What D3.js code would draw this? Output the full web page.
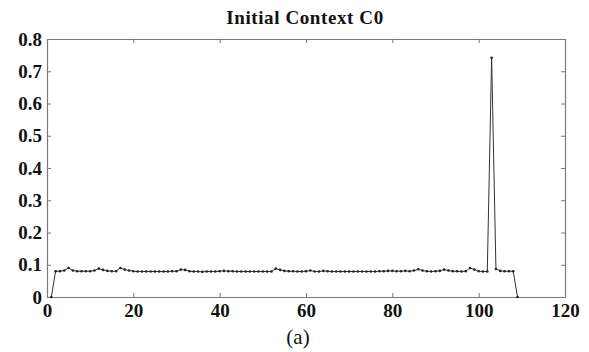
<!DOCTYPE html>
<html>
<head>
<meta charset="utf-8">
<script src="https://cdn.jsdelivr.net/npm/d3@7"></script>
<style>
  html, body { margin: 0; padding: 0; background: #fff; }
  svg { display: block; }
</style>
</head>
<body>
<div id="chart"></div>
<script>
const TITLE = "Initial Context C0";
const CAPTION = "(a)";

// sample index 1..109
const xIndex = [
  1, 2, 3, 4, 5, 6, 7, 8, 9, 10, 11, 12, 13, 14, 15, 16, 17, 18, 19, 20,
  21, 22, 23, 24, 25, 26, 27, 28, 29, 30, 31, 32, 33, 34, 35, 36, 37, 38, 39, 40,
  41, 42, 43, 44, 45, 46, 47, 48, 49, 50, 51, 52, 53, 54, 55, 56, 57, 58, 59, 60,
  61, 62, 63, 64, 65, 66, 67, 68, 69, 70, 71, 72, 73, 74, 75, 76, 77, 78, 79, 80,
  81, 82, 83, 84, 85, 86, 87, 88, 89, 90, 91, 92, 93, 94, 95, 96, 97, 98, 99, 100,
  101, 102, 103, 104, 105, 106, 107, 108, 109
];
const values = [
  0.000, 0.080, 0.080, 0.082, 0.090, 0.082, 0.080, 0.080, 0.080, 0.080,
  0.082, 0.088, 0.084, 0.081, 0.080, 0.080, 0.090, 0.085, 0.082, 0.080,
  0.079, 0.079, 0.079, 0.079, 0.079, 0.079, 0.079, 0.079, 0.080, 0.080,
  0.085, 0.084, 0.080, 0.079, 0.079, 0.078, 0.079, 0.079, 0.079, 0.080,
  0.081, 0.080, 0.080, 0.079, 0.079, 0.079, 0.079, 0.079, 0.079, 0.079,
  0.079, 0.079, 0.088, 0.084, 0.081, 0.080, 0.080, 0.079, 0.079, 0.080,
  0.082, 0.079, 0.079, 0.081, 0.080, 0.079, 0.079, 0.079, 0.079, 0.079,
  0.079, 0.079, 0.079, 0.079, 0.079, 0.079, 0.080, 0.080, 0.081, 0.081,
  0.080, 0.080, 0.081, 0.080, 0.082, 0.086, 0.082, 0.080, 0.079, 0.080,
  0.081, 0.085, 0.082, 0.080, 0.080, 0.079, 0.080, 0.090, 0.085, 0.080,
  0.079, 0.079, 0.742, 0.087, 0.081, 0.080, 0.080, 0.080, 0.000
];
const xTicks = [0, 20, 40, 60, 80, 100, 120];
const yTicks = [0, 0.1, 0.2, 0.3, 0.4, 0.5, 0.6, 0.7, 0.8];

const W = 589, H = 352;
const margin = { top: 39, right: 24, bottom: 55, left: 47 };
const iw = W - margin.left - margin.right;
const ih = H - margin.top - margin.bottom;

const svg = d3.select("#chart").append("svg").attr("width", W).attr("height", H);
const g = svg.append("g").attr("transform", `translate(${margin.left},${margin.top})`);

const x = d3.scaleLinear().domain([0, 120]).range([0, iw]);
const y = d3.scaleLinear().domain([0, 0.8]).range([ih, 0]);

const axisColor = "#7a7a7a";
const labelFont = "'Liberation Serif', 'Times New Roman', serif";
const fmtY = (d) => (d === 0 ? "0" : d3.format(".1f")(d));

function styleAxis(sel) {
  sel.select(".domain").attr("stroke", axisColor).attr("stroke-width", 1.2);
  sel.selectAll(".tick line").attr("stroke", axisColor).attr("stroke-width", 1);
  sel.selectAll("text")
    .attr("fill", "#111")
    .attr("font-family", labelFont)
    .attr("font-weight", "bold")
    .attr("font-size", "19px");
}

// bottom / left axes with labels, ticks pointing inward
g.append("g")
  .attr("transform", `translate(0,${ih})`)
  .call(d3.axisBottom(x).tickValues(xTicks).tickSize(-4).tickPadding(7).tickSizeOuter(0))
  .call(styleAxis);

g.append("g")
  .call(d3.axisLeft(y).tickValues(yTicks).tickFormat(fmtY).tickSize(-4).tickPadding(5).tickSizeOuter(0))
  .call(styleAxis);

// top / right box axes without labels
g.append("g")
  .call(d3.axisTop(x).tickValues(xTicks).tickSize(-4).tickFormat(() => "").tickSizeOuter(0))
  .call(styleAxis);

g.append("g")
  .attr("transform", `translate(${iw},0)`)
  .call(d3.axisRight(y).tickValues(yTicks).tickSize(-4).tickFormat(() => "").tickSizeOuter(0))
  .call(styleAxis);

const pts = xIndex.map((d, i) => ({ x: d, y: values[i] }));

g.append("path")
  .datum(pts)
  .attr("fill", "none")
  .attr("stroke", "#333")
  .attr("stroke-width", 1)
  .attr("d", d3.line().x((d) => x(d.x)).y((d) => y(d.y)));

g.selectAll(".pt")
  .data(pts)
  .join("circle")
  .attr("class", "pt")
  .attr("cx", (d) => x(d.x))
  .attr("cy", (d) => y(d.y))
  .attr("r", 1.3)
  .attr("fill", "#222");

svg.append("text")
  .attr("x", 305)
  .attr("y", 24)
  .attr("text-anchor", "middle")
  .attr("font-family", labelFont)
  .attr("font-weight", "bold")
  .attr("font-size", "19px")
  .attr("letter-spacing", "0.6px")
  .attr("fill", "#111")
  .text(TITLE);

svg.append("text")
  .attr("x", 298)
  .attr("y", 344)
  .attr("text-anchor", "middle")
  .attr("font-family", labelFont)
  .attr("font-size", "21px")
  .attr("fill", "#111")
  .text(CAPTION);
</script>
</body>
</html>
